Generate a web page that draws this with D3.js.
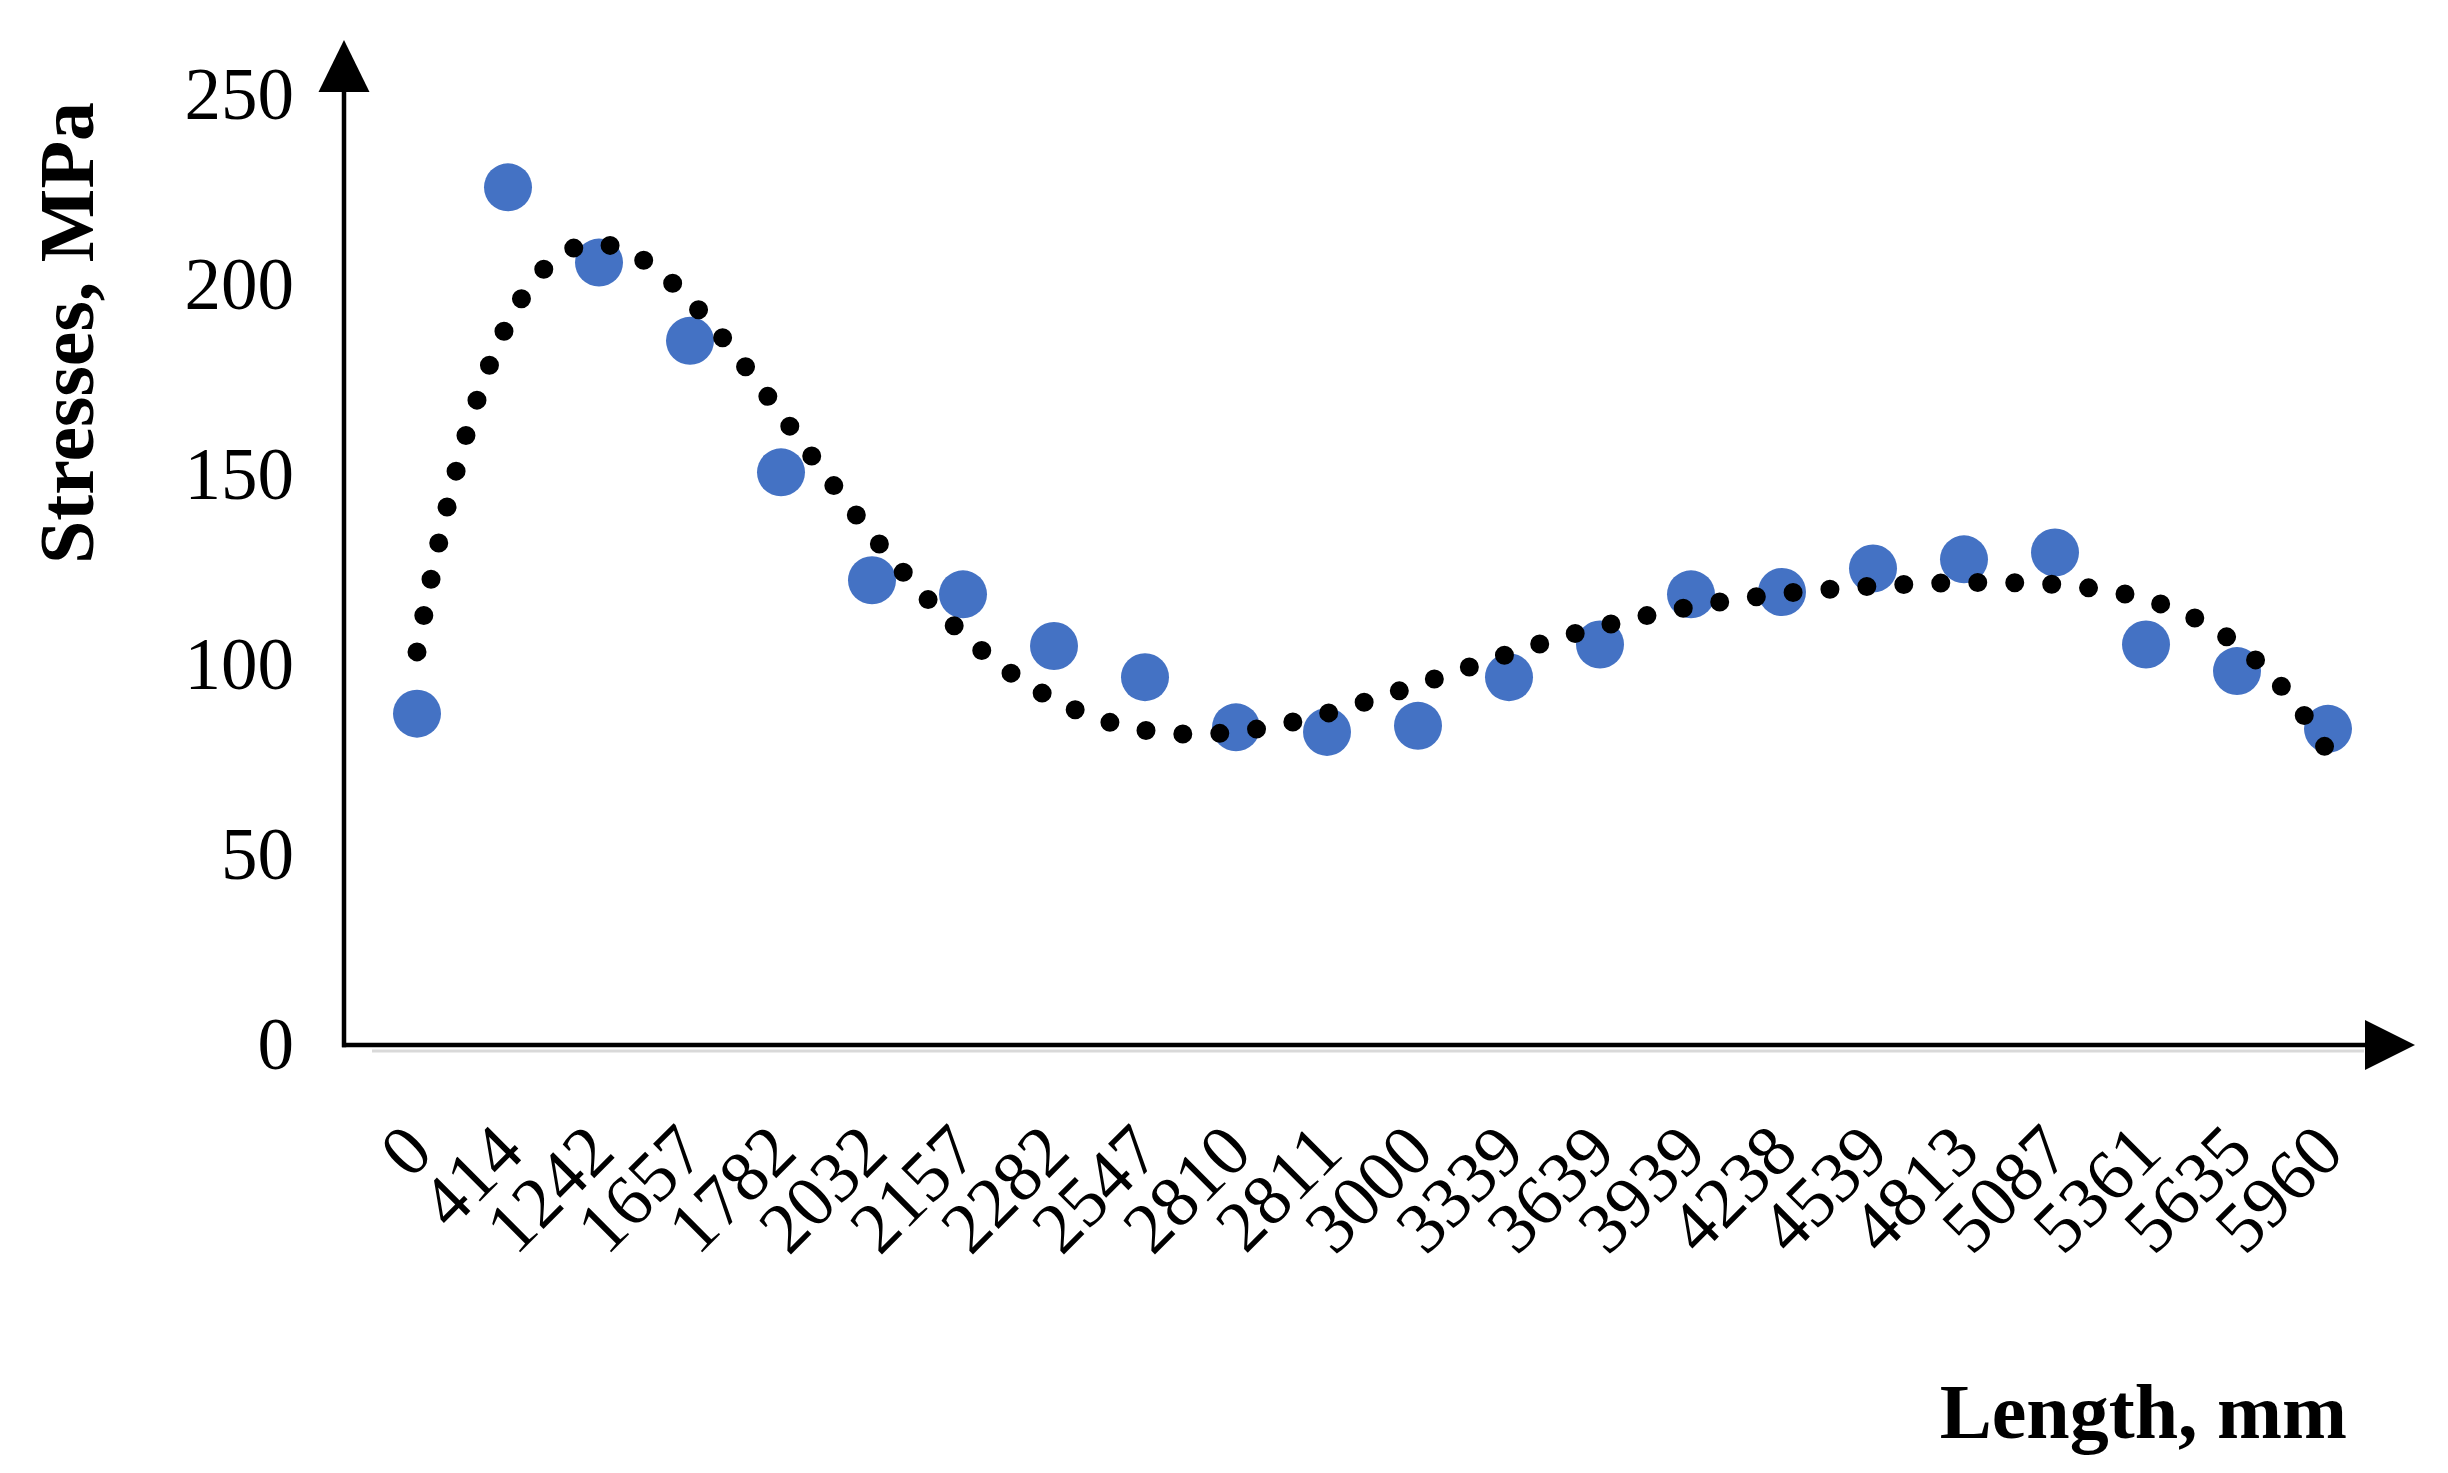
<!DOCTYPE html>
<html>
<head>
<meta charset="utf-8">
<script src="https://cdn.jsdelivr.net/npm/d3@7"></script>
<style>
  html, body { margin: 0; padding: 0; background: #fff; }
  svg { display: block; }
  text { font-family: "Liberation Serif", "Times New Roman", serif; fill: #000; }
</style>
</head>
<body>
<svg id="chart" width="2448" height="1473"></svg>
<script>
// ---- data ----
const categories = ["0","414","1242","1657","1782","2032","2157","2282","2547","2810","2811",
                    "3000","3339","3639","3939","4238","4539","4813","5087","5361","5635","5960"];
const stresses = [87.2, 225.7, 205.9, 185.3, 150.7, 122.3, 118.6, 105.0, 96.8, 83.6, 82.4,
                  84.0, 96.8, 105.4, 118.6, 119.2, 125.4, 127.8, 129.6, 105.4, 98.4, 83.2];
const yTicks = [0, 50, 100, 150, 200, 250];
const trendOrder = 6;
const yTitle = "Stresses, MPa";
const xTitle = "Length, mm";

// ---- layout ----
const svg = d3.select("#chart");
const x = d3.scalePoint().domain(categories).range([417, 2328]);
const y = d3.scaleLinear().domain([0, 250]).range([1045, 95]);
const axisX0 = 344;

// ---- polynomial trendline (least squares on category index 1..n) ----
function polyFit(xs, ys, order) {
  const m = order + 1;
  const A = Array.from({length: m}, () => new Array(m + 1).fill(0));
  xs.forEach((xv, i) => {
    const p = [];
    for (let k = 0; k < m; k++) p.push(Math.pow(xv, k));
    for (let r = 0; r < m; r++) {
      for (let c = 0; c < m; c++) A[r][c] += p[r] * p[c];
      A[r][m] += p[r] * ys[i];
    }
  });
  for (let col = 0; col < m; col++) {
    let piv = col;
    for (let r = col + 1; r < m; r++) if (Math.abs(A[r][col]) > Math.abs(A[piv][col])) piv = r;
    [A[col], A[piv]] = [A[piv], A[col]];
    for (let r = 0; r < m; r++) {
      if (r === col) continue;
      const f = A[r][col] / A[col][col];
      for (let c = col; c <= m; c++) A[r][c] -= f * A[col][c];
    }
  }
  return A.map((row, i) => row[m] / row[i]);
}
const n = categories.length;
const idx = d3.range(1, n + 1);
const mid = (n + 1) / 2, half = (n - 1) / 2;
const tNorm = v => (v - mid) / half;
const coef = polyFit(idx.map(tNorm), stresses, trendOrder);
const evalPoly = v => coef.reduce((s, c, k) => s + c * Math.pow(tNorm(v), k), 0);
const xIdx = d3.scaleLinear().domain([1, n]).range(x.range());
const trendPts = d3.range(1, n + 0.0001, 0.05).map(v => [v, evalPoly(v)]);

// ---- axes ----
const gY = svg.append("g")
  .attr("transform", `translate(${axisX0},0)`)
  .call(d3.axisLeft(y).tickValues(yTicks).tickSize(0).tickPadding(50));
gY.select(".domain").remove();
gY.selectAll("text")
  .style("font-family", '"Liberation Serif", serif')
  .style("font-size", "73px")
  .attr("fill", "#000");

const gX = svg.append("g")
  .attr("transform", `translate(0,${y(0)})`)
  .call(d3.axisBottom(x).tickSize(0));
gX.select(".domain").remove();
gX.selectAll("text")
  .attr("x", 0).attr("y", 0).attr("dy", 0)
  .attr("text-anchor", "end")
  .attr("transform", "translate(18,110) rotate(-45)")
  .style("font-family", '"Liberation Serif", serif')
  .style("font-size", "72px")
  .attr("fill", "#000");

// shadow under x axis
svg.append("line")
  .attr("x1", 372).attr("x2", 2364)
  .attr("y1", y(0) + 6).attr("y2", y(0) + 6)
  .attr("stroke", "#d9d9d9").attr("stroke-width", 3);

// x axis line + arrow
svg.append("line")
  .attr("x1", axisX0 - 2).attr("x2", 2370)
  .attr("y1", y(0)).attr("y2", y(0))
  .attr("stroke", "#000").attr("stroke-width", 4.5);
svg.append("path")
  .attr("d", `M2365,${y(0) - 25} L2415,${y(0)} L2365,${y(0) + 25} Z`)
  .attr("fill", "#000");

// y axis line + arrow
svg.append("line")
  .attr("x1", axisX0).attr("x2", axisX0)
  .attr("y1", y(0) + 2.2).attr("y2", 88)
  .attr("stroke", "#000").attr("stroke-width", 4.5);
svg.append("path")
  .attr("d", `M${axisX0 - 25.5},92 L${axisX0},40 L${axisX0 + 25.5},92 Z`)
  .attr("fill", "#000");

// ---- markers ----
svg.append("g").selectAll("circle")
  .data(stresses)
  .join("circle")
  .attr("cx", (d, i) => x(categories[i]))
  .attr("cy", d => y(d))
  .attr("r", 24)
  .attr("fill", "#4472C4");

// ---- trendline (round dot) ----
const line = d3.line().x(d => xIdx(d[0])).y(d => y(d[1])).curve(d3.curveLinear);
svg.append("path")
  .datum(trendPts)
  .attr("d", line)
  .attr("fill", "none")
  .attr("stroke", "#000")
  .attr("stroke-width", 19)
  .attr("stroke-linecap", "round")
  .attr("stroke-dasharray", "0 37");

// ---- titles ----
svg.append("text")
  .attr("transform", "translate(93,333) rotate(-90)")
  .attr("text-anchor", "middle")
  .style("font-size", "78px")
  .style("font-weight", "bold")
  .text(yTitle);

svg.append("text")
  .attr("x", 2347).attr("y", 1438)
  .attr("text-anchor", "end")
  .style("font-size", "78px")
  .style("font-weight", "bold")
  .text(xTitle);
</script>
</body>
</html>
